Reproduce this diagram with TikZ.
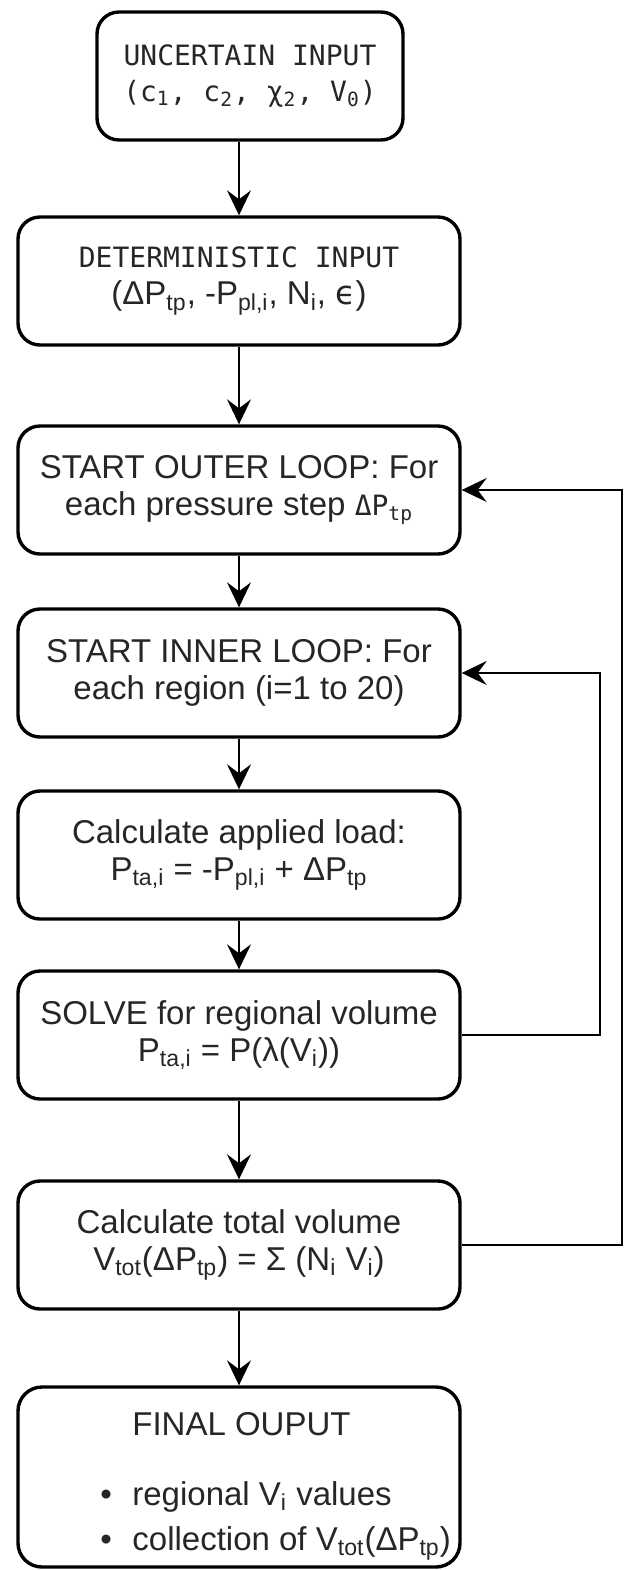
\documentclass[tikz,border=0pt]{standalone}
\usepackage{fontspec}
\setmainfont{Liberation Sans}
\setsansfont{Liberation Sans}
\setmonofont{DejaVu Sans Mono}
\newfontfamily\symfont{DejaVu Sans}
\usetikzlibrary{arrows.meta}

\begin{document}
\begin{tikzpicture}[x=0.5pt, y=-0.5pt,
    every node/.style={text=black!85, font=\fontsize{16.5}{18.5}\selectfont, align=center},
    box/.style={draw=black, line width=1.7pt, rounded corners=11pt, minimum width=221pt, minimum height=64pt},
    mono/.style={font=\ttfamily\fontsize{14}{18}\selectfont},
    outtext/.style={anchor=base west, inner sep=0pt},
    flow/.style={-{Stealth[length=12.5pt, width=12pt, inset=4.5pt]}, line width=1pt}]
    \useasboundingbox (0,0) rectangle (623,1570);

    % main column
    \node[box, mono, minimum width=153pt] (uncertain) at (250,76) {UNCERTAIN INPUT\\(c\textsubscript{1}, c\textsubscript{2}, χ\textsubscript{2}, V\textsubscript{0})};
    \node[box] (determ) at (239,281) {{\ttfamily\fontsize{14}{18}\selectfont DETERMINISTIC INPUT}\\(ΔP\textsubscript{tp}, -P\textsubscript{pl,i}, N\textsubscript{i}, {\symfont ϵ})};
    \node[box] (outer) at (239,490) {START OUTER LOOP: For\\each pressure step {\ttfamily\fontsize{14}{18}\selectfont ΔP\textsubscript{tp}}};
    \node[box] (inner) at (239,673) {START INNER LOOP: For\\each region (i=1 to 20)};
    \node[box] (applied) at (239,855) {Calculate applied load:\\P\textsubscript{ta,i} = -P\textsubscript{pl,i} + ΔP\textsubscript{tp}};
    \node[box] (solve) at (239,1035) {SOLVE for regional volume\\P\textsubscript{ta,i} = P(λ(V\textsubscript{i}))};
    \node[box] (total) at (239,1245) {Calculate total volume\\V\textsubscript{tot}(ΔP\textsubscript{tp}) = Σ (N\textsubscript{i} V\textsubscript{i})};
    \node[box, minimum height=90pt, rounded corners=12pt] (final) at (239,1477) {};

    % output list
    \node[outtext] (finaltitle) at (132,1435) {FINAL OUPUT};
    \node[outtext] (finalvi) at (132,1505) {regional V\textsubscript{i} values};
    \node[outtext] (finalvtot) at (132,1550) {collection of V\textsubscript{tot}(ΔP\textsubscript{tp})};
    \node[outtext] (bulletvi) at (100,1505) {•};
    \node[outtext] (bulletvtot) at (100,1550) {•};

    \draw[flow] (uncertain.south -| determ.north) -- (determ.north);
    \foreach \a/\b in {determ/outer, outer/inner, inner/applied,
                       applied/solve, solve/total, total/final} {
        \draw[flow] (\a) -- (\b);
    }

    % loops
    \draw[flow] (solve.east) -- ++(138,0) |- (inner.east);
    \draw[flow] (total.east) -- ++(160,0) |- (outer.east);
\end{tikzpicture}
\end{document}
